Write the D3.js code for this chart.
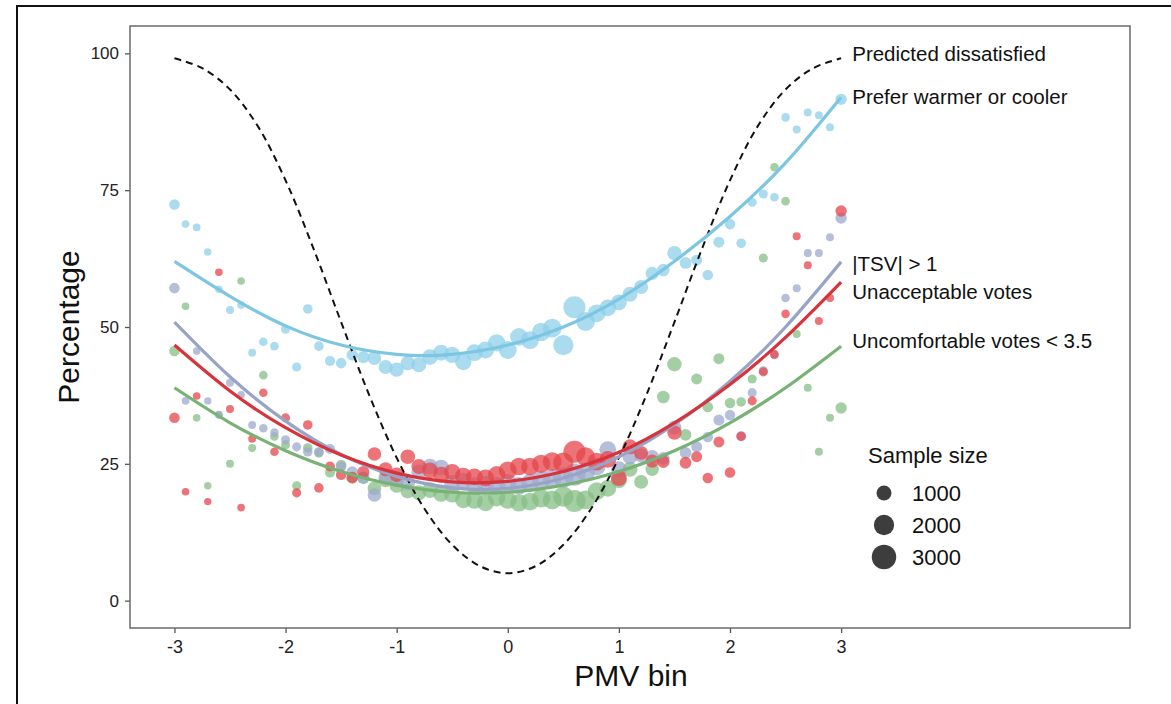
<!DOCTYPE html>
<html>
<head>
<meta charset="utf-8">
<script src="https://cdn.jsdelivr.net/npm/d3@7"></script>
<style>
  body { margin: 0; background: #fff; }
  text { font-family: "Liberation Sans", Arial, sans-serif; }
</style>
</head>
<body>
<svg width="1171" height="704"></svg>
<script>
var svg = d3.select("svg"),
    width = +svg.attr("width"),
    height = +svg.attr("height");

// PMV bins -3.0 .. 3.0 step 0.1
var bins = d3.range(61).map(function (i) { return Math.round((-3 + i * 0.1) * 10) / 10; });

// sample size per bin (shared by all four measures)
var sampleSize = [400, 120, 120, 100, 120, 150, 120, 150, 200, 200,
                  250, 250, 300, 300, 350, 400, 500, 600, 800, 850,
                  900, 950, 1000, 1100, 1150, 1200, 1250, 1300, 1350, 1400,
                  1500, 1450, 1500, 1600, 1700, 2000, 2400, 1700, 1500, 1300,
                  1150, 1000, 850, 750, 650, 900, 550, 450, 400, 450,
                  400, 300, 250, 250, 200, 200, 150, 150, 150, 150, 500];

var preferValues = [72.4, 68.8, 68.2, 63.7, 56.9, 53.1, 54.0, 45.3, 47.3, 46.5,
                    49.6, 42.7, 53.3, 46.5, 43.8, 43.4, 44.9, 44.5, 44.3, 42.7,
                    42.2, 43.4, 43.1, 44.5, 45.3, 44.9, 43.6, 45.3, 45.8, 47.1,
                    45.8, 48.2, 47.6, 49.1, 49.8, 46.7, 53.6, 51.0, 52.5, 53.5,
                    54.5, 56.0, 57.3, 59.8, 60.4, 63.5, 61.7, 62.2, 59.5, 65.5,
                    68.8, 65.3, 72.8, 74.3, 73.7, 88.3, 86.1, 89.2, 88.7, 86.5, 91.6];

var unacceptValues = [33.4, 19.9, 37.4, 18.1, 60.0, 35.0, 17.0, 29.6, 38.0, 27.2,
                      33.4, 19.7, 32.1, 20.6, 24.5, 23.0, 22.5, 23.5, 26.8, 24.0,
                      23.0, 26.3, 24.5, 23.8, 23.0, 23.5, 22.8, 22.6, 22.4, 23.0,
                      23.8, 24.5, 24.5, 25.0, 25.4, 25.2, 27.2, 26.3, 25.4, 25.8,
                      22.4, 28.1, 27.0, 25.5, 25.4, 30.7, 25.2, 26.3, 22.4, 29.0,
                      23.4, 30.0, 36.5, 41.8, 45.0, 52.4, 66.6, 61.3, 51.1, 55.3, 71.2];

var tsvValues = [57.1, 36.5, 45.6, 36.5, 34.0, 39.8, 37.6, 32.1, 31.5, 30.7,
                 29.4, 28.1, 27.2, 27.2, 27.7, 24.5, 23.5, 22.5, 19.3, 22.5,
                 22.0, 21.5, 23.5, 24.5, 24.3, 21.5, 21.8, 21.0, 21.2, 21.0,
                 21.5, 21.0, 21.5, 22.0, 22.3, 22.5, 23.0, 23.5, 24.5, 27.6,
                 24.0, 26.3, 26.5, 26.3, 26.0, 31.6, 27.0, 28.1, 29.9, 33.0,
                 33.9, 30.1, 38.0, 42.0, 44.9, 55.3, 57.1, 63.5, 63.5, 66.4, 69.9];

var uncomfValues = [45.6, 53.8, 33.4, 21.0, 33.9, 25.0, 58.4, 27.9, 41.2, 30.0,
                    28.5, 21.0, 27.9, 27.0, 23.4, 24.8, 22.4, 22.4, 20.5, 22.0,
                    21.0, 20.0, 19.7, 20.2, 19.5, 19.4, 18.4, 18.3, 17.9, 18.8,
                    18.4, 17.9, 18.1, 18.7, 18.4, 19.0, 18.2, 18.4, 20.0, 20.5,
                    22.0, 24.0, 21.7, 24.0, 37.2, 43.2, 30.3, 40.5, 35.4, 44.2,
                    36.1, 36.3, 40.5, 62.6, 79.2, 73.0, 48.7, 38.9, 27.2, 33.4, 35.2];

// fitted curves, read at PMV -3 .. 3 step 0.5
var fitX = [-3, -2.5, -2, -1.5, -1, -0.5, 0, 0.5, 1, 1.5, 2, 2.5, 3];
var preferFit = [62.0, 55.6, 50.2, 46.7, 45.0, 45.0, 46.7, 50.0, 55.1, 62.0, 70.2, 80.0, 92.0];
var tsvFit = [50.9, 40.9, 32.8, 26.7, 22.7, 20.6, 20.5, 22.4, 26.3, 32.2, 40.1, 50.0, 61.9];
var unacceptFit = [46.7, 38.3, 31.6, 26.6, 23.3, 21.7, 21.8, 23.6, 27.1, 32.5, 39.5, 48.1, 58.2];
var uncomfFit = [38.9, 32.5, 27.4, 23.6, 21.1, 19.8, 19.8, 21.1, 23.6, 27.4, 32.5, 38.9, 46.5];

// predicted percentage dissatisfied, PMV -3 .. 3 step 0.25
var ppdX = d3.range(25).map(function (i) { return -3 + i * 0.25; });
var ppdValues = [99.1, 97.3, 93.4, 86.7, 76.8, 64.4, 50.9, 37.7, 26.1, 16.8, 10.2, 6.3,
                 5.0, 6.3, 10.2, 16.8, 26.1, 37.7, 50.9, 64.4, 76.8, 86.7, 93.4, 97.3, 99.1];

var seriesNames = ["Uncomfortable votes < 3.5", "|TSV| > 1", "Unacceptable votes", "Prefer warmer or cooler"];
var seriesLabelY = [47.5, 61.5, 56.5, 92];
var xTicks = [-3, -2, -1, 0, 1, 2, 3];
var yTicks = [0, 25, 50, 75, 100];
var sizeBreaks = [1000, 2000, 3000];

var pointColors = ["#86bd84", "#9eaacd", "#e5454b", "#8dcfea"];
var lineColors = ["#78b275", "#98a4c6", "#d8323a", "#7cc6e2"];
var seriesPoints = [uncomfValues, tsvValues, unacceptValues, preferValues];
var seriesFits = [uncomfFit, tsvFit, unacceptFit, preferFit];

var x = d3.scaleLinear().domain([-3.4, 5.6]).range([130, 1130]);
var y = d3.scaleLinear().domain([-5, 105]).range([628, 26]);
var area = d3.scaleLinear().domain([0, 3000]).range([9, 150]);
function radius(n) { return Math.sqrt(area(n)); }

// outer frame
svg.append("rect")
    .attr("x", 17).attr("y", 6)
    .attr("width", 1200).attr("height", 800)
    .attr("fill", "none").attr("stroke", "#111").attr("stroke-width", 2);

// axes
var xAxis = svg.append("g")
    .attr("transform", "translate(0,628)")
    .call(d3.axisBottom(x).tickValues(xTicks).tickSize(5).tickSizeOuter(0));
var yAxis = svg.append("g")
    .attr("transform", "translate(130,0)")
    .call(d3.axisLeft(y).tickValues(yTicks).tickSize(5).tickSizeOuter(0));

xAxis.select(".domain").remove();
yAxis.select(".domain").remove();
svg.selectAll(".tick line").attr("stroke", "#555").attr("stroke-width", 1.3);
xAxis.selectAll("text")
    .style("font-size", "18px")
    .style("font-family", "'Liberation Sans Narrow', 'Liberation Sans', Arial, sans-serif")
    .attr("fill", "#222").attr("y", 10).attr("dy", "0.85em")
    .text(function (d) { return d < 0 ? "-" + Math.abs(d) : d; });
yAxis.selectAll("text")
    .style("font-size", "17px")
    .style("font-family", "'Liberation Sans', Arial, sans-serif")
    .attr("fill", "#222").attr("x", -11);

// panel border
svg.append("rect")
    .attr("x", 130).attr("y", 26)
    .attr("width", 1000).attr("height", 602)
    .attr("fill", "none").attr("stroke", "#6a6a6a").attr("stroke-width", 1.5);

// axis titles
svg.append("text")
    .attr("x", 631).attr("y", 686)
    .attr("text-anchor", "middle")
    .style("font-size", "30px").attr("fill", "#111")
    .text("PMV bin");
svg.append("text")
    .attr("transform", "translate(79,327) rotate(-90)")
    .attr("text-anchor", "middle")
    .style("font-size", "30px").attr("fill", "#111")
    .text("Percentage");

// points
seriesPoints.forEach(function (vals, s) {
    svg.append("g")
        .selectAll("circle")
        .data(bins)
        .enter().append("circle")
        .attr("cx", function (d) { return x(d); })
        .attr("cy", function (d, i) { return y(vals[i]); })
        .attr("r", function (d, i) { return radius(sampleSize[i]); })
        .attr("fill", pointColors[s])
        .attr("fill-opacity", 0.75);
});

// PPD dashed curve
var ppdLine = d3.line()
    .x(function (d) { return x(d); })
    .y(function (d, i) { return y(ppdValues[i]); })
    .curve(d3.curveCatmullRom);
svg.append("path")
    .attr("d", ppdLine(ppdX))
    .attr("fill", "none")
    .attr("stroke", "#111")
    .attr("stroke-width", 2)
    .attr("stroke-dasharray", "7,5");

// fitted curves
seriesFits.forEach(function (vals, s) {
    var fitLine = d3.line()
        .x(function (d) { return x(d); })
        .y(function (d, i) { return y(vals[i]); })
        .curve(d3.curveNatural);
    svg.append("path")
        .attr("d", fitLine(fitX))
        .attr("fill", "none")
        .attr("stroke", lineColors[s])
        .attr("stroke-width", 3.2);
});

// line labels
var labels = [{ text: "Predicted dissatisfied", v: 100 }].concat(seriesNames.map(function (n, i) {
    return { text: n, v: seriesLabelY[i] };
}));
svg.append("g")
    .selectAll("text")
    .data(labels)
    .enter().append("text")
    .attr("x", x(3.1))
    .attr("y", function (d) { return y(d.v); })
    .attr("dy", "0.35em")
    .style("font-size", "20.5px")
    .attr("fill", "#111")
    .text(function (d) { return d.text; });

// size legend
var legend = svg.append("g");
legend.append("text")
    .attr("x", 868).attr("y", 455).attr("dy", "0.35em")
    .style("font-size", "22px").attr("fill", "#111")
    .text("Sample size");
legend.selectAll("circle")
    .data(sizeBreaks)
    .enter().append("circle")
    .attr("cx", 884)
    .attr("cy", function (d, i) { return 493 + i * 32; })
    .attr("r", function (d) { return radius(d); })
    .attr("fill", "#3d3d3d");
legend.selectAll("text.key")
    .data(sizeBreaks)
    .enter().append("text")
    .attr("class", "key")
    .attr("x", 912)
    .attr("y", function (d, i) { return 493 + i * 32; })
    .attr("dy", "0.35em")
    .style("font-size", "22px").attr("fill", "#111")
    .text(function (d) { return d; });
</script>
</body>
</html>
